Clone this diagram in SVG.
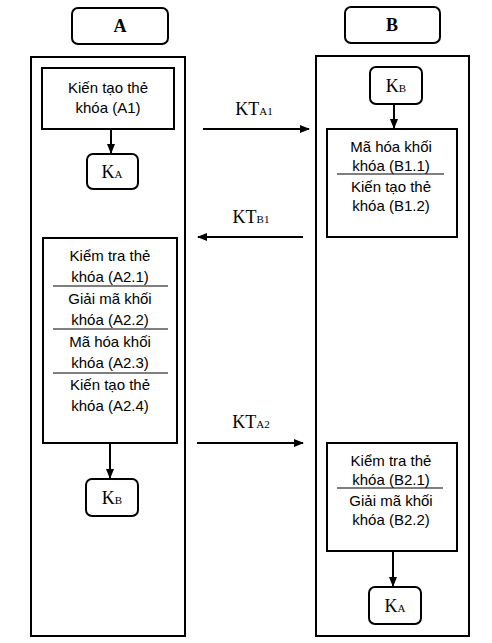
<svg xmlns="http://www.w3.org/2000/svg" width="492" height="643" viewBox="0 0 492 643">
<defs>
<style>
.box{fill:#fff;stroke:#000;stroke-width:2}
.rbox{fill:#fff;stroke:#000;stroke-width:2}
.div{stroke:#000;stroke-width:1.2}
.t{font-family:"Liberation Sans",Arial,sans-serif;font-size:15px;text-anchor:middle;fill:#000}
.k{font-family:"Liberation Serif","Times New Roman",serif;font-size:18px;text-anchor:middle;fill:#000}
.k .s{font-size:11px}
.h{font-family:"Liberation Serif","Times New Roman",serif;font-size:18px;font-weight:bold;text-anchor:middle;fill:#000}
.ln{stroke:#000;stroke-width:2;fill:none}
</style>
<marker id="ah" markerWidth="10" markerHeight="8" refX="9" refY="4" orient="auto" markerUnits="userSpaceOnUse">
<path d="M0,0 L10,4 L0,8 z" fill="#000"/>
</marker>
</defs>
<rect width="492" height="643" fill="#fff"/>

<g id="headerA"><rect class="rbox" x="72" y="8" width="96" height="36" rx="6"/><text class="h" x="120" y="32">A</text></g>
<g id="headerB"><rect class="rbox" x="345" y="7" width="95" height="36" rx="6"/><text class="h" x="392" y="31">B</text></g>

<g id="laneA"><rect class="box" x="31" y="57" width="154" height="579"/></g>
<g id="laneB"><rect class="box" x="316" y="56" width="153" height="580"/></g>

<g id="A1"><rect class="box" x="42" y="68" width="132" height="61"/>
<text class="t" x="108" y="93">Kiến tạo thẻ</text>
<text class="t" x="108" y="113">khóa (A1)</text></g>

<g id="KA1"><rect class="rbox" x="87" y="154" width="51" height="35" rx="6"/>
<text class="k" x="112" y="178">K<tspan class="s">A</tspan></text></g>

<g id="A2"><rect class="box" x="43" y="238" width="134" height="205"/>
<line class="div" x1="53" y1="286" x2="168" y2="286"/>
<line class="div" x1="53" y1="329" x2="168" y2="329"/>
<line class="div" x1="53" y1="373" x2="168" y2="373"/>
<text class="t" x="110" y="261">Kiểm tra thẻ</text>
<text class="t" x="110" y="282">khóa (A2.1)</text>
<text class="t" x="110" y="304">Giải mã khối</text>
<text class="t" x="110" y="325">khóa (A2.2)</text>
<text class="t" x="110" y="347">Mã hóa khối</text>
<text class="t" x="110" y="368">khóa (A2.3)</text>
<text class="t" x="110" y="390">Kiến tạo thẻ</text>
<text class="t" x="110" y="411">khóa (A2.4)</text></g>

<g id="KB2"><rect class="rbox" x="86" y="479" width="52" height="37" rx="6"/>
<text class="k" x="112" y="504">K<tspan class="s">B</tspan></text></g>

<g id="KB1"><rect class="rbox" x="370" y="67" width="52" height="37" rx="6"/>
<text class="k" x="396" y="92">K<tspan class="s">B</tspan></text></g>

<g id="B1"><rect class="box" x="327" y="129" width="130" height="108"/>
<line class="div" x1="337" y1="174" x2="444" y2="174"/>
<text class="t" x="391" y="152">Mã hóa khối</text>
<text class="t" x="391" y="171">khóa (B1.1)</text>
<text class="t" x="391" y="192">Kiến tạo thẻ</text>
<text class="t" x="391" y="211">khóa (B1.2)</text></g>

<g id="B2"><rect class="box" x="327" y="443" width="130" height="108"/>
<line class="div" x1="337" y1="488" x2="443" y2="488"/>
<text class="t" x="391" y="466">Kiểm tra thẻ</text>
<text class="t" x="391" y="485">khóa (B2.1)</text>
<text class="t" x="391" y="506">Giải mã khối</text>
<text class="t" x="391" y="525">khóa (B2.2)</text></g>

<g id="KA2"><rect class="rbox" x="369" y="587" width="52" height="37" rx="6"/>
<text class="k" x="395" y="612">K<tspan class="s">A</tspan></text></g>

<g id="connectors">
<line class="ln" x1="111" y1="129" x2="111" y2="153" marker-end="url(#ah)"/>
<line class="ln" x1="110" y1="443" x2="110" y2="478" marker-end="url(#ah)"/>
<line class="ln" x1="394" y1="104" x2="394" y2="128" marker-end="url(#ah)"/>
<line class="ln" x1="393" y1="551" x2="393" y2="586" marker-end="url(#ah)"/>
<line class="ln" x1="203" y1="129" x2="309" y2="129" marker-end="url(#ah)"/>
<line class="ln" x1="303" y1="237" x2="198" y2="237" marker-end="url(#ah)"/>
<line class="ln" x1="197" y1="443" x2="303" y2="443" marker-end="url(#ah)"/>
<text class="k" x="254" y="115">KT<tspan class="s">A1</tspan></text>
<text class="k" x="251" y="223">KT<tspan class="s">B1</tspan></text>
<text class="k" x="251" y="428">KT<tspan class="s">A2</tspan></text>
</g>
</svg>
